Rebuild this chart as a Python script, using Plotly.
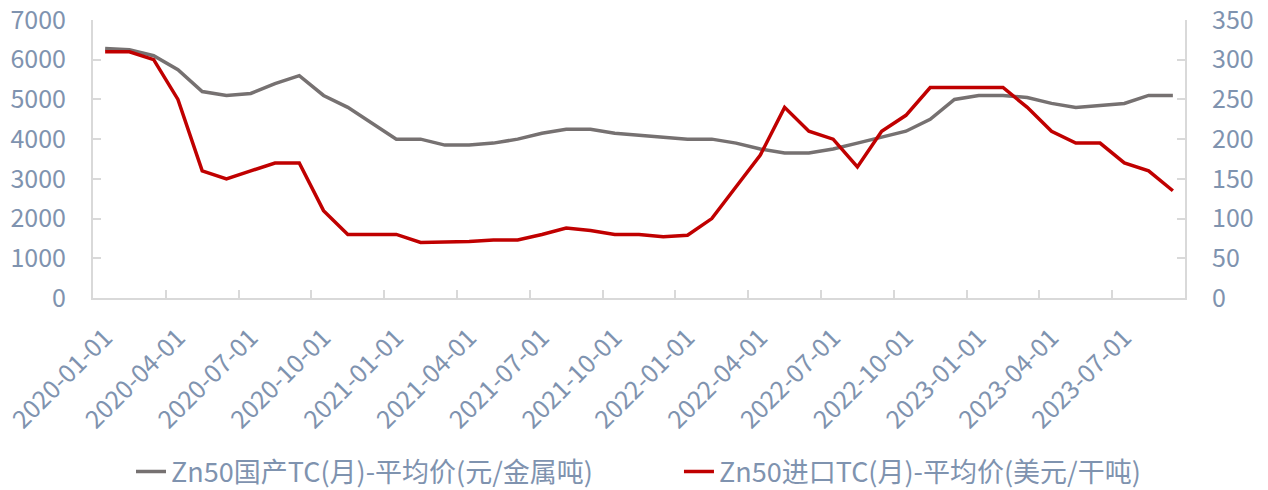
import plotly.graph_objects as go
import pandas as pd

months = pd.date_range("2020-01-01", "2023-09-01", freq="MS").strftime("%Y-%m-%d").tolist()

domestic_tc = [6280, 6250, 6100, 5750, 5200, 5100, 5150, 5400, 5600, 5100, 4800, 4400,
               4000, 4000, 3850, 3850, 3900, 4000, 4150, 4250, 4250, 4150, 4100, 4050,
               4000, 4000, 3900, 3750, 3650, 3650, 3750, 3900, 4050, 4200, 4500, 5000,
               5100, 5100, 5050, 4900, 4800, 4850, 4900, 5100, 5100]
import_tc = [310, 310, 300, 250, 160, 150, 160, 170, 170, 110, 80, 80,
             80, 70, 70, 71, 73, 73, 80, 88, 85, 80, 80, 77,
             79, 100, 140, 180, 240, 210, 200, 165, 210, 230, 265, 265,
             265, 265, 240, 210, 195, 195, 170, 160, 135]

name_dom = "Zn50国产TC(月)-平均价(元/金属吨)"
name_imp = "Zn50进口TC(月)-平均价(美元/干吨)"

font_family = "Noto Sans CJK SC, Noto Sans, sans-serif"
label_color = "#7F93AF"
axis_color = "#D9D9D9"

fig = go.Figure()
fig.add_trace(go.Scatter(x=months, y=domestic_tc, name=name_dom, mode="lines",
                         line=dict(color="#767171", width=3.5), legend="legend"))
fig.add_trace(go.Scatter(x=months, y=import_tc, name=name_imp, mode="lines",
                         line=dict(color="#C00000", width=3.5), yaxis="y2",
                         legend="legend2"))

legend_common = dict(orientation="h", xanchor="left", y=-0.626, yanchor="middle",
                     font=dict(size=27, color=label_color), bgcolor="rgba(0,0,0,0)")

fig.update_layout(
    width=1268, height=490,
    margin=dict(l=93, r=83, t=20, b=192, autoexpand=False),
    paper_bgcolor="white", plot_bgcolor="white",
    font=dict(family=font_family, color=label_color, size=24),
    showlegend=True,
    legend=dict(x=0.0348, **legend_common),
    legend2=dict(x=0.5366, **legend_common),
    xaxis=dict(type="category", tickmode="linear", tick0=0, dtick=3,
               tickson="boundaries", ticks="inside", ticklen=8, tickcolor=axis_color,
               tickwidth=1.5, showline=True, linecolor=axis_color, linewidth=2,
               showgrid=False, tickangle=-45, range=[-0.5, 44.5], automargin=False,
               tickfont=dict(size=25, color=label_color), ticklabelstandoff=13),
    yaxis=dict(range=[0, 7000], dtick=1000, ticks="inside", ticklen=8,
               tickcolor=axis_color, tickwidth=1.5, showline=True, linecolor=axis_color,
               linewidth=2, showgrid=False, zeroline=False, automargin=False,
               ticklabeloverflow="allow",
               tickfont=dict(size=25, color=label_color), ticklabelstandoff=20),
    yaxis2=dict(range=[0, 350], dtick=50, overlaying="y", side="right", ticks="inside",
                ticklen=8, tickcolor=axis_color, tickwidth=1.5, showline=True,
                linecolor=axis_color, linewidth=2, showgrid=False, zeroline=False,
                automargin=False, ticklabeloverflow="allow",
                tickfont=dict(size=25, color=label_color), ticklabelstandoff=20),
)

fig.write_html("out.html", config={"displayModeBar": False},
               post_script="document.body.style.margin='0';document.body.style.overflow='hidden';")
